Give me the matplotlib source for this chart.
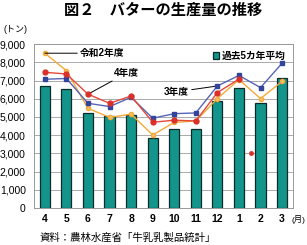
import numpy as np
import matplotlib
matplotlib.use("Agg")
import matplotlib.pyplot as plt

plt.rcParams['font.family'] = ['Liberation Sans', 'Noto Sans CJK JP', 'DejaVu Sans']

months = ['4', '5', '6', '7', '8', '9', '10', '11', '12', '1', '2', '3']
avg5 = [6700, 6540, 5220, 5050, 5090, 3860, 4320, 4320, 5880, 6575, 5750, 7120]
r2 = [8500, 7540, 5470, 4980, 5150, 4010, 4700, 4780, 6010, 7050, 6010, 6950]
r3 = [7070, 7110, 5750, 5570, 6080, 4930, 5180, 5220, 6700, 7280, 6610, 7950]
r4 = [7450, 7360, 6250, 5750, 6150, 4710, 4820, 4780, 6340, 7080, np.nan, np.nan]
stray_x = [9.57]
stray_y = [3040]
yticks = [0, 1000, 2000, 3000, 4000, 5000, 6000, 7000, 8000, 9000]

fig = plt.figure(figsize=(3.07, 2.45), dpi=100)
ax = fig.add_axes([0.111, 0.151, 0.843, 0.669])
x = np.arange(len(months))

ax.bar(x, avg5, width=0.47, color='#14958b', edgecolor='#0b2b2a', linewidth=0.9,
       zorder=2, label='過去5カ年平均')
ax.plot(x, r2, color='#f4a93a', lw=1.0, marker='o', ms=3, mfc='#f7c36a', mec='#f4a93a',
        zorder=3)
ax.plot(x, r3, color='#5565b8', lw=1.0, marker='s', ms=3.5, mfc='#33449a', mec='#33449a',
        zorder=4)
ax.plot(x, r4, color='#e3493a', lw=1.0, marker='o', ms=3.5, mfc='#d9302a', mec='#d9302a',
        zorder=5)
ax.plot(stray_x, stray_y, ls='none', marker='o', ms=2.5, color='#d9302a', zorder=5)

ax.set_xlim(-0.5, 11.5)
ax.set_ylim(0, 9000)
ax.set_yticks(yticks)
ax.set_yticklabels([f'{v:,}' for v in yticks], fontsize=7.5)
ax.set_xticks(x)
ax.set_xticklabels(months, fontsize=7.5, fontweight='bold')
ax.tick_params(length=0, pad=4)
ax.tick_params(axis='y', pad=6)
ax.grid(axis='y', color='#aaaaaa', lw=0.7, zorder=0)
ax.set_axisbelow(True)
for s in ax.spines.values():
    s.set_color('#999999')
    s.set_linewidth(0.7)

line_kw = dict(arrowstyle='-', color='black', lw=0.7, shrinkA=0, shrinkB=0)
ax.annotate('令和2年度', xy=(0, r2[0]), xytext=(1.63, 8500), fontsize=7,
            fontweight='bold', ha='left', va='center', arrowprops=line_kw)
ax.annotate('4年度', xy=(2, r4[2]), xytext=(3.2, 7400), fontsize=7,
            fontweight='bold', ha='left', va='center', arrowprops=line_kw)
ax.annotate('3年度', xy=(8, r3[8]), xytext=(6.68, 6380), fontsize=7,
            fontweight='bold', ha='right', va='center', arrowprops=line_kw)

ax.legend(loc='upper right', bbox_to_anchor=(1.0, 1.0), frameon=False,
          handlelength=0.6, handleheight=0.6, handletextpad=0.3, borderaxespad=0.3,
          prop={'weight': 'bold', 'size': 7})

fig.text(0.53, 0.955, '図２　バターの生産量の推移', ha='center', va='center',
         fontsize=11, fontweight='bold')
fig.text(0.01, 0.878, '(トン)', ha='left', va='center', fontsize=6.5)
fig.text(0.995, 0.105, '(月)', ha='right', va='center', fontsize=6)
fig.text(0.13, 0.03, '資料：農林水産省「牛乳乳製品統計」', ha='left', va='center', fontsize=7.5)

fig.savefig('out.png', dpi=100)
